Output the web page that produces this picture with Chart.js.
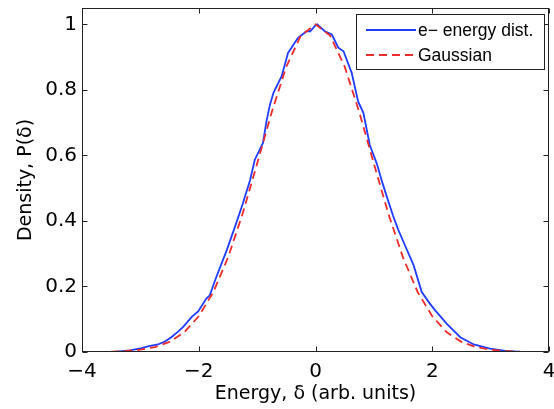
<!DOCTYPE html>
<html>
<head>
<meta charset="utf-8">
<script src="https://cdn.jsdelivr.net/npm/chart.js@4.4.1/dist/chart.umd.min.js"></script>
<style>
  html, body { margin: 0; padding: 0; background: #fff; }
</style>
</head>
<body>
<canvas id="c" width="554" height="409"></canvas>
<script>
// ---------- data ----------

const X_TICKS = [-4, -2, 0, 2, 4];
const Y_TICKS = [0, 0.2, 0.4, 0.6, 0.8, 1];

const beamLabel = "e\u2212 energy dist.";
const beamX = [
  -3.45, -3.18, -2.98, -2.85, -2.70, -2.58, -2.47, -2.37, -2.27, -2.12, -2.01,
  -1.87, -1.81, -1.72, -1.62, -1.52, -1.38, -1.25, -1.12, -1.04, -0.90, -0.84,
  -0.78, -0.72, -0.58, -0.47, -0.30, -0.15, -0.09, -0.01, 0.03, 0.16, 0.28,
  0.39, 0.48, 0.62, 0.73, 0.82, 0.93, 1.05, 1.14, 1.22, 1.33, 1.42, 1.51, 1.68,
  1.82, 1.95, 2.05, 2.25, 2.48, 2.71, 2.99, 3.28, 3.52,
];
const beamY = [
  0.000, 0.005, 0.012, 0.018, 0.023, 0.032, 0.045, 0.060, 0.076, 0.107, 0.124,
  0.163, 0.173, 0.219, 0.265, 0.311, 0.382, 0.450, 0.525, 0.587, 0.638, 0.704,
  0.755, 0.791, 0.842, 0.913, 0.959, 0.979, 0.979, 0.995, 1.000, 0.979, 0.969,
  0.929, 0.918, 0.852, 0.765, 0.730, 0.632, 0.575, 0.520, 0.475, 0.415, 0.372, 0.335, 0.265,
  0.183, 0.150, 0.127, 0.086, 0.045, 0.023, 0.010, 0.003, 0.000,
];

const gaussLabel = "Gaussian";
const gaussX = [
  -3.5, -3.25, -3, -2.75, -2.5, -2.25, -2, -1.75, -1.5, -1.25, -1, -0.75, -0.5, -0.25,
  0, 0.25, 0.5, 0.75, 1, 1.25, 1.5, 1.75, 2, 2.25, 2.5, 2.75, 3, 3.25, 3.5,
];
const gaussY = [
  0.001, 0.003, 0.007, 0.015, 0.031, 0.060, 0.109, 0.183, 0.288, 0.421, 0.575, 0.732, 0.871, 0.966,
  1.000, 0.966, 0.871, 0.732, 0.575, 0.421, 0.288, 0.183, 0.109, 0.060, 0.031, 0.015, 0.007, 0.003, 0.001,
];

// ---------- style ----------

const FONT = "'DejaVu Sans', sans-serif";
const LEGEND_FONT = "'Liberation Sans', Arial, sans-serif";
const BLUE = "#1f3cff";
const RED = "#ee2b2b";

const fmtTick = (v) => (v < 0 ? "\u2212" + Math.abs(v) : String(v));

// box round the axes with inward tick marks, like matlab
const framePlugin = {
  id: "frame",
  afterDatasetsDraw(chart) {
    const { ctx, chartArea: a, scales } = chart;
    const L = Math.round(a.left) + 0.5, R = Math.round(a.right) - 0.5;
    const T = Math.round(a.top) + 0.5, B = Math.round(a.bottom) - 0.5;
    const len = 5;
    ctx.save();
    ctx.strokeStyle = "#222";
    ctx.lineWidth = 1;
    ctx.strokeRect(L, T, R - L, B - T);
    ctx.beginPath();
    for (const t of scales.x.ticks) {
      const px = Math.round(scales.x.getPixelForValue(t.value)) + 0.5;
      ctx.moveTo(px, B); ctx.lineTo(px, B - len);
      ctx.moveTo(px, T); ctx.lineTo(px, T + len);
    }
    for (const t of scales.y.ticks) {
      const py = Math.round(scales.y.getPixelForValue(t.value)) + 0.5;
      ctx.moveTo(L, py); ctx.lineTo(L + len, py);
      ctx.moveTo(R, py); ctx.lineTo(R - len, py);
    }
    ctx.stroke();
    ctx.restore();
  },
};

// boxed legend in the top right corner of the axes
const legendPlugin = {
  id: "boxLegend",
  afterDraw(chart) {
    const { ctx } = chart;
    const box = { x: 356.5, y: 14.5, w: 188, h: 55 };
    ctx.save();
    ctx.fillStyle = "#fff";
    ctx.fillRect(box.x, box.y, box.w, box.h);
    ctx.strokeStyle = "#222";
    ctx.lineWidth = 1;
    ctx.strokeRect(box.x, box.y, box.w, box.h);
    ctx.font = `17.5px ${LEGEND_FONT}`;
    ctx.textBaseline = "middle";
    ctx.fillStyle = "#000";
    chart.data.datasets.forEach((ds, i) => {
      const y = 30 + i * 25;
      ctx.beginPath();
      ctx.strokeStyle = ds.borderColor;
      ctx.lineWidth = ds.borderWidth;
      ctx.setLineDash(ds.borderDash || []);
      ctx.moveTo(366, y);
      ctx.lineTo(416, y);
      ctx.stroke();
      ctx.setLineDash([]);
      ctx.fillText(ds.label, 418, y + 1);
    });
    ctx.restore();
  },
};

const toPts = (xs, ys) => xs.map((x, i) => ({ x, y: ys[i] }));

new Chart(document.getElementById("c"), {
  type: "line",
  data: {
    datasets: [
      { label: beamLabel, data: toPts(beamX, beamY), borderColor: BLUE, borderWidth: 1.8, order: 1 },
      { label: gaussLabel, data: toPts(gaussX, gaussY), borderColor: RED, borderWidth: 1.8, borderDash: [8, 5], order: 0 },
    ],
  },
  options: {
    responsive: false,
    animation: false,
    devicePixelRatio: 1,
    layout: { padding: { left: 0, top: 8, right: 5, bottom: 0 } },
    elements: { point: { radius: 0 }, line: { tension: 0 } },
    plugins: { legend: { display: false }, tooltip: { enabled: false } },
    scales: {
      x: {
        type: "linear",
        min: -4,
        max: 4,
        afterBuildTicks: (s) => { s.ticks = X_TICKS.map((v) => ({ value: v })); },
        afterFit: (s) => { s.height = 57; s.paddingLeft = 0; s.paddingRight = 0; },
        grid: { display: false, drawTicks: false },
        border: { display: false },
        ticks: { color: "#000", font: { family: FONT, size: 20 }, padding: 8, maxRotation: 0, autoSkip: false, callback: fmtTick },
        title: { display: true, text: "Energy, \u03b4 (arb. units)", color: "#000", font: { family: FONT, size: 19 }, padding: { top: 0, bottom: 4 } },
      },
      y: {
        type: "linear",
        min: 0,
        max: 1.05,
        afterBuildTicks: (s) => { s.ticks = Y_TICKS.map((v) => ({ value: v })); },
        afterFit: (s) => { s.width = 82; s.paddingTop = 0; s.paddingBottom = 0; },
        grid: { display: false, drawTicks: false },
        border: { display: false },
        ticks: { color: "#000", font: { family: FONT, size: 20 }, padding: 5, autoSkip: false, callback: fmtTick },
        title: { display: true, text: "Density, P(\u03b4)", color: "#000", font: { family: FONT, size: 19 }, padding: { top: 15, bottom: 0 } },
      },
    },
  },
  plugins: [framePlugin, legendPlugin],
});
</script>
</body>
</html>
